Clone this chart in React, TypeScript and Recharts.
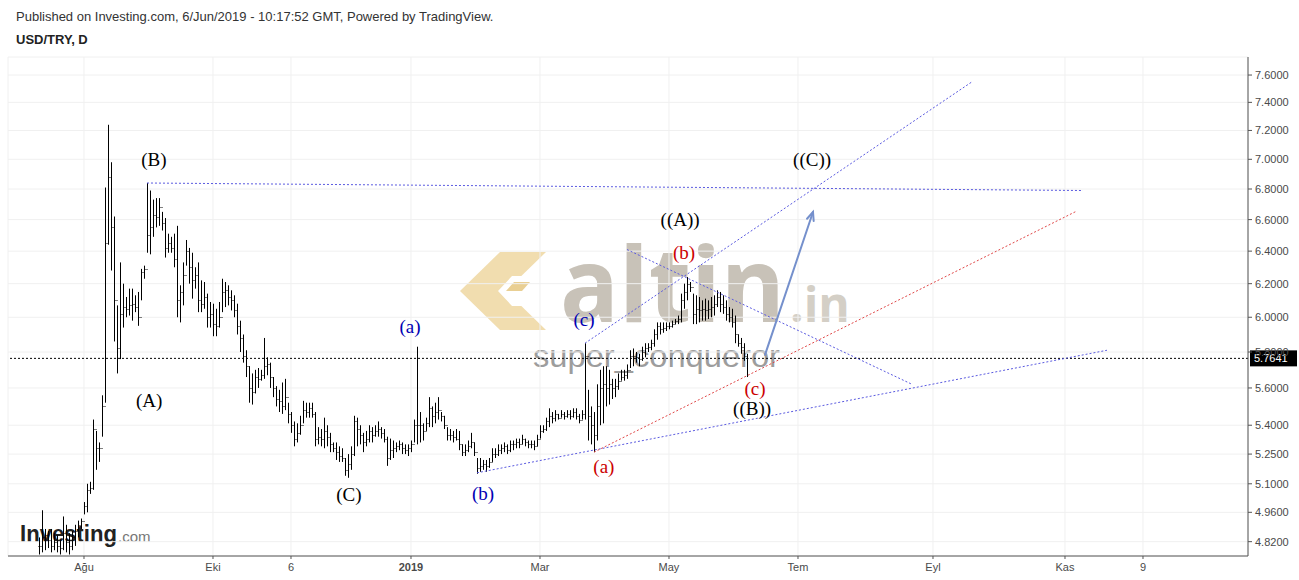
import React from "react"
import { ComposedChart, Bar, XAxis, YAxis, CartesianGrid, ReferenceLine, ReferenceDot } from "recharts"

// weekday index 0 = 1 Aug 2018, first bar sits 15 sessions before that
const firstIndex = -15

const highs = [
  4.84, 4.97, 4.88, 4.87, 4.88, 4.86, 4.85, 4.83, 4.94, 4.90, 4.86, 4.87, 4.90, 4.92, 4.93,
  5.01, 5.10, 5.11, 5.43, 5.37, 5.31, 5.56, 6.81, 7.24, 6.98, 6.62, 6.07, 6.33, 6.20, 6.12,
  6.17, 6.17, 6.13, 6.15, 6.29, 6.31, 6.84, 6.79, 6.73, 6.74, 6.74, 6.65, 6.61, 6.51, 6.49,
  6.51, 6.56, 6.19, 6.33, 6.47, 6.42, 6.39, 6.30, 6.33, 6.22, 6.21, 6.14, 6.09, 6.08, 6.05,
  6.09, 6.23, 6.21, 6.19, 6.16, 6.13, 6.08, 5.98, 5.90, 5.81, 5.72, 5.68, 5.70, 5.71, 5.70,
  5.88, 5.77, 5.74, 5.66, 5.61, 5.59, 5.63, 5.65, 5.52, 5.47, 5.42, 5.41, 5.45, 5.53, 5.52,
  5.52, 5.52, 5.47, 5.39, 5.38, 5.44, 5.40, 5.36, 5.31, 5.31, 5.29, 5.28, 5.23, 5.25, 5.29,
  5.45, 5.44, 5.40, 5.36, 5.37, 5.40, 5.39, 5.40, 5.42, 5.39, 5.38, 5.34, 5.33, 5.32, 5.31,
  5.32, 5.31, 5.30, 5.30, 5.32, 5.43, 5.83, 5.47, 5.41, 5.44, 5.55, 5.50, 5.52, 5.55, 5.47,
  5.45, 5.39, 5.38, 5.37, 5.38, 5.37, 5.30, 5.30, 5.32, 5.36, 5.31, 5.23, 5.23, 5.22, 5.22,
  5.23, 5.28, 5.28, 5.30, 5.30, 5.31, 5.30, 5.32, 5.32, 5.33, 5.33, 5.35, 5.33, 5.32, 5.32,
  5.32, 5.35, 5.40, 5.40, 5.44, 5.49, 5.47, 5.48, 5.46, 5.48, 5.47, 5.48, 5.48, 5.49, 5.49,
  5.46, 5.48, 5.85, 5.59, 5.50, 5.47, 5.62, 5.70, 5.72, 5.72, 5.70, 5.65, 5.65, 5.68, 5.70,
  5.70, 5.73, 5.81, 5.82, 5.80, 5.79, 5.83, 5.85, 5.85, 5.87, 5.93, 5.97, 5.97, 5.97, 5.97,
  5.97, 5.98, 5.99, 6.01, 6.14, 6.20, 6.24, 6.21, 6.14, 6.13, 6.12, 6.10, 6.11, 6.10, 6.12,
  6.13, 6.16, 6.15, 6.13, 6.10, 6.06, 6.05, 6.01, 5.90, 5.88, 5.85, 5.79,
]

const lows = [
  4.76, 4.77, 4.78, 4.79, 4.77, 4.78, 4.77, 4.76, 4.78, 4.77, 4.76, 4.78, 4.80, 4.84, 4.88,
  4.95, 4.96, 5.05, 5.07, 5.17, 5.21, 5.34, 5.52, 6.44, 6.28, 5.86, 5.68, 5.76, 5.94, 6.00,
  6.01, 5.98, 6.03, 5.95, 6.10, 6.23, 6.39, 6.38, 6.49, 6.55, 6.56, 6.53, 6.36, 6.39, 6.39,
  6.30, 6.00, 5.97, 6.07, 6.31, 6.20, 6.11, 6.17, 6.03, 6.03, 6.05, 5.94, 5.94, 5.89, 5.89,
  5.94, 6.03, 6.06, 6.07, 6.04, 6.00, 5.90, 5.80, 5.74, 5.66, 5.52, 5.51, 5.57, 5.60, 5.64,
  5.65, 5.67, 5.60, 5.55, 5.50, 5.47, 5.46, 5.48, 5.41, 5.36, 5.29, 5.31, 5.35, 5.41, 5.44,
  5.44, 5.44, 5.29, 5.30, 5.29, 5.28, 5.29, 5.26, 5.26, 5.22, 5.21, 5.21, 5.14, 5.13, 5.17,
  5.24, 5.29, 5.30, 5.26, 5.29, 5.31, 5.31, 5.34, 5.34, 5.33, 5.31, 5.19, 5.22, 5.23, 5.26,
  5.27, 5.25, 5.25, 5.24, 5.26, 5.31, 5.30, 5.31, 5.32, 5.37, 5.39, 5.39, 5.41, 5.43, 5.42,
  5.38, 5.32, 5.32, 5.31, 5.32, 5.27, 5.24, 5.24, 5.26, 5.28, 5.24, 5.15, 5.16, 5.17, 5.16,
  5.18, 5.21, 5.23, 5.24, 5.25, 5.26, 5.25, 5.26, 5.27, 5.28, 5.28, 5.30, 5.29, 5.28, 5.28,
  5.27, 5.29, 5.33, 5.36, 5.37, 5.39, 5.41, 5.42, 5.43, 5.44, 5.43, 5.44, 5.43, 5.44, 5.43,
  5.41, 5.43, 5.43, 5.32, 5.30, 5.26, 5.32, 5.40, 5.41, 5.50, 5.51, 5.54, 5.55, 5.59, 5.64,
  5.64, 5.65, 5.71, 5.72, 5.74, 5.72, 5.75, 5.77, 5.80, 5.81, 5.83, 5.87, 5.90, 5.91, 5.92,
  5.93, 5.94, 5.96, 5.96, 5.97, 6.05, 6.10, 6.15, 5.96, 5.96, 5.97, 5.98, 5.98, 5.99, 6.00,
  6.01, 6.06, 6.03, 6.02, 5.98, 5.97, 5.94, 5.85, 5.83, 5.79, 5.75, 5.66,
]

const closes = [
  4.80, 4.84, 4.85, 4.83, 4.80, 4.82, 4.80, 4.79, 4.86, 4.82, 4.80, 4.84, 4.87, 4.90, 4.92,
  4.99, 5.07, 5.08, 5.38, 5.28, 5.28, 5.50, 6.45, 6.88, 6.55, 6.10, 5.82, 6.02, 6.06, 6.05,
  6.07, 6.08, 6.06, 6.00, 6.27, 6.29, 6.50, 6.55, 6.63, 6.62, 6.68, 6.58, 6.42, 6.45, 6.42,
  6.35, 6.10, 6.15, 6.25, 6.40, 6.30, 6.22, 6.25, 6.10, 6.08, 6.12, 6.00, 6.02, 5.96, 5.95,
  6.00, 6.15, 6.16, 6.12, 6.10, 6.04, 5.95, 5.88, 5.78, 5.72, 5.60, 5.58, 5.66, 5.65, 5.67,
  5.72, 5.73, 5.66, 5.60, 5.54, 5.53, 5.50, 5.55, 5.46, 5.40, 5.33, 5.36, 5.40, 5.48, 5.47,
  5.49, 5.46, 5.33, 5.34, 5.33, 5.37, 5.34, 5.30, 5.28, 5.26, 5.24, 5.23, 5.17, 5.20, 5.25,
  5.42, 5.38, 5.35, 5.31, 5.33, 5.37, 5.35, 5.37, 5.38, 5.36, 5.33, 5.23, 5.27, 5.28, 5.29,
  5.30, 5.28, 5.27, 5.28, 5.30, 5.40, 5.40, 5.40, 5.37, 5.41, 5.49, 5.45, 5.47, 5.48, 5.45,
  5.40, 5.35, 5.35, 5.34, 5.33, 5.30, 5.26, 5.27, 5.29, 5.31, 5.26, 5.18, 5.19, 5.20, 5.19,
  5.21, 5.25, 5.25, 5.27, 5.28, 5.29, 5.27, 5.30, 5.30, 5.31, 5.30, 5.33, 5.31, 5.30, 5.30,
  5.29, 5.33, 5.37, 5.38, 5.42, 5.45, 5.44, 5.46, 5.44, 5.46, 5.45, 5.46, 5.45, 5.47, 5.45,
  5.43, 5.46, 5.78, 5.45, 5.40, 5.35, 5.50, 5.60, 5.62, 5.60, 5.62, 5.60, 5.61, 5.64, 5.66,
  5.67, 5.70, 5.78, 5.78, 5.77, 5.76, 5.80, 5.82, 5.83, 5.85, 5.90, 5.95, 5.93, 5.94, 5.95,
  5.95, 5.96, 5.98, 5.99, 6.10, 6.15, 6.20, 6.18, 6.02, 6.05, 6.04, 6.05, 6.04, 6.05, 6.06,
  6.08, 6.12, 6.08, 6.06, 6.02, 6.00, 5.97, 5.90, 5.85, 5.83, 5.78, 5.7641,
]

const lastPrice = 5.7641

const priceTicks = [4.82, 4.96, 5.1, 5.25, 5.4, 5.6, 5.8, 6.0, 6.2, 6.4, 6.6, 6.8, 7.0, 7.2, 7.4, 7.6]
const dateTicks = [0, 43, 69, 109, 152, 195, 238, 283, 327, 353]
const dateLabels = ["Ağu", "Eki", "6", "2019", "Mar", "May", "Tem", "Eyl", "Kas", "9"]

// hand drawn analysis lines: [index1, price1, index2, price2]
const blueLines = [
  [21, 6.84, 333, 6.79],
  [167, 5.85, 296, 7.55],
  [131, 5.155, 341, 5.81],
  [181, 6.41, 276, 5.62],
]
const redLines = [[170, 5.26, 331, 6.656]]
const arrowLine = [227, 5.784, 243, 6.649]

// wave labels: [text, index, price, colour]
const waveLabels: [string, number, number, string][] = [
  ["(B)", 23.3, 6.995, "#000"],
  ["(A)", 21.7, 5.53, "#000"],
  ["(C)", 88.3, 5.045, "#000"],
  ["(a)", 108.7, 5.943, "#0000b4"],
  ["(b)", 133, 5.05, "#0000b4"],
  ["(c)", 166.7, 5.984, "#0000b4"],
  ["(a)", 173.3, 5.185, "#cc0000"],
  ["(b)", 200, 6.388, "#cc0000"],
  ["(c)", 223.7, 5.595, "#cc0000"],
  ["((A))", 198.7, 6.597, "#000"],
  ["((B))", 222.7, 5.486, "#000"],
  ["((C))", 242.7, 6.995, "#000"],
]

const data = highs.map((h, k) => ({
  idx: firstIndex + k,
  range: [lows[k], h],
  high: h,
  low: lows[k],
  close: closes[k],
  prevClose: k > 0 ? closes[k - 1] : closes[k],
}))

const axisFont = "'Liberation Sans', Arial, sans-serif"

function OhlcBar(props: any) {
  const { x, y, width, height, payload } = props
  if (x == null || y == null || !payload) return null
  const top = Math.min(y, y + height)
  const bottom = Math.max(y, y + height)
  const lh = Math.log(payload.high)
  const ll = Math.log(payload.low)
  const at = (v: number) => top + ((bottom - top) * (lh - Math.log(v))) / (lh - ll || 1)
  const cx = Math.round(x + width / 2) + 0.5
  const yo = Math.round(at(payload.prevClose)) + 0.5
  const yc = Math.round(at(payload.close)) + 0.5
  return (
    <g stroke="#000" strokeWidth={1}>
      <line x1={cx} x2={cx} y1={top} y2={bottom} />
      <line x1={cx - 1} x2={cx} y1={yo} y2={yo} />
      <line x1={cx} x2={cx + 1} y1={yc} y2={yc} />
    </g>
  )
}

function DateTick(props: any) {
  const { x, y, payload } = props
  const label = dateLabels[dateTicks.indexOf(payload.value)]
  return (
    <text x={x} y={y + 10} textAnchor="middle" fontSize={11} fontFamily={axisFont}
      fill="#4a4a4a" fontWeight={label === "2019" ? "bold" : "normal"}>
      {label}
    </text>
  )
}

function PriceTag(props: any) {
  const { viewBox } = props
  const x = viewBox.x + viewBox.width + 2
  const y = viewBox.y
  return (
    <g>
      <rect x={x} y={y - 8} width={47} height={16} fill="#000" />
      <text x={x + 4} y={y + 4} fontSize={11} fontFamily={axisFont} fill="#fff">
        {lastPrice.toFixed(4)}
      </text>
    </g>
  )
}

function Arrow(props: any) {
  const { x1, y1, x2, y2 } = props
  const a = Math.atan2(y2 - y1, x2 - x1)
  const s = 9
  const p1 = [x2 - s * Math.cos(a - 0.4), y2 - s * Math.sin(a - 0.4)]
  const p2 = [x2 - s * Math.cos(a + 0.4), y2 - s * Math.sin(a + 0.4)]
  return (
    <g stroke="#7590cc" strokeWidth={2} fill="none" strokeLinecap="round">
      <line x1={x1} y1={y1} x2={x2} y2={y2} />
      <polyline points={`${p1[0]},${p1[1]} ${x2},${y2} ${p2[0]},${p2[1]}`} />
    </g>
  )
}

function Watermark() {
  return (
    <svg width={1299} height={580} style={{ position: "absolute", left: 0, top: 0 }}>
      <g fill="#efd9a6" opacity={0.9}>
        <polygon points="500,252 546,252 506,291 546,330 500,330 460,291" />
      </g>
      <g fill="#fff">
        <polygon points="512,276 536,276 520,291 536,306 512,306 498,291" />
      </g>
      <g fill="#e9cf93">
        <polygon points="514,282 530,282 522,291 506,291" />
      </g>
      <text x={560} y={322} fontSize={104} fontWeight="bold" fill="#c8c2b8"
        fontFamily="'Open Sans', Arial, sans-serif" textLength={225} lengthAdjust="spacingAndGlyphs">
        altin
      </text>
      <text x={790} y={322} fontSize={48} fontWeight="bold" fill="#d4cfc6"
        fontFamily="'Open Sans', Arial, sans-serif">
        .in
      </text>
      <text x={533} y={367} fontSize={32} fill="#8d8d8d" opacity={0.85}
        fontFamily={axisFont} textLength={247} lengthAdjust="spacingAndGlyphs">
        super_conqueror
      </text>
      <text x={20} y={542} fontSize={23} fontWeight="bold" fill="#222" fontFamily={axisFont}
        textLength={97} lengthAdjust="spacingAndGlyphs">
        Investing
      </text>
      <text x={118} y={542} fontSize={15} fill="#777" fontFamily={axisFont}>
        .com
      </text>
    </svg>
  )
}

export default function App() {
  return (
    <div style={{ position: "absolute", left: 0, top: 0, width: 1299, height: 580, background: "#fff" }}>
      <Watermark />
      <div style={{ position: "absolute", left: 16, top: 9, fontSize: 13, fontFamily: axisFont, color: "#333" }}>
        Published on Investing.com, 6/Jun/2019 - 10:17:52 GMT, Powered by TradingView.
      </div>
      <div style={{ position: "absolute", left: 16, top: 32, fontSize: 13, fontWeight: "bold", fontFamily: axisFont, color: "#222" }}>
        USD/TRY, D
      </div>
      <div style={{ position: "absolute", left: 0, top: 0 }}>
        <ComposedChart width={1299} height={580} data={data} margin={{ top: 57, right: 0, bottom: 0, left: 8 }}>
          <CartesianGrid stroke="#f0f0f0" />
          <XAxis
            dataKey="idx"
            type="number"
            domain={[-25.33, 388]}
            allowDataOverflow
            ticks={dateTicks}
            tick={<DateTick />}
            tickSize={3}
            height={24}
            axisLine={{ stroke: "#555" }}
            tickLine={{ stroke: "#555" }}
          />
          <YAxis
            orientation="right"
            scale="log"
            domain={[4.753, 7.735]}
            allowDataOverflow
            ticks={priceTicks}
            tickFormatter={(v: number) => v.toFixed(4)}
            tick={{ fontSize: 11, fill: "#4a4a4a", fontFamily: axisFont }}
            tickSize={4}
            tickMargin={3}
            width={51}
            axisLine={{ stroke: "#555" }}
            tickLine={{ stroke: "#555" }}
          />
          <Bar dataKey="range" barSize={1} shape={<OhlcBar />} isAnimationActive={false} />
          <ReferenceLine y={lastPrice} stroke="#000" strokeDasharray="2 2" ifOverflow="visible" label={<PriceTag />} />
          {blueLines.map((l, k) => (
            <ReferenceLine key={"b" + k} segment={[{ x: l[0], y: l[1] }, { x: l[2], y: l[3] }]}
              stroke="#5a5ae0" strokeDasharray="2 2" ifOverflow="visible" />
          ))}
          {redLines.map((l, k) => (
            <ReferenceLine key={"r" + k} segment={[{ x: l[0], y: l[1] }, { x: l[2], y: l[3] }]}
              stroke="#e04848" strokeDasharray="2 2" ifOverflow="visible" />
          ))}
          <ReferenceLine
            segment={[{ x: arrowLine[0], y: arrowLine[1] }, { x: arrowLine[2], y: arrowLine[3] }]}
            ifOverflow="visible"
            shape={(p: any) => <Arrow {...p} />}
          />
          {waveLabels.map(([t, i, p, c], k) => (
            <ReferenceDot key={"w" + k} x={i} y={p} r={0} ifOverflow="visible"
              shape={(s: any) => (
                <text x={s.cx} y={s.cy + 6} textAnchor="middle" fontSize={19} fill={c}
                  fontFamily="'Liberation Serif', 'Times New Roman', serif">
                  {t}
                </text>
              )}
            />
          ))}
        </ComposedChart>
      </div>
    </div>
  )
}
